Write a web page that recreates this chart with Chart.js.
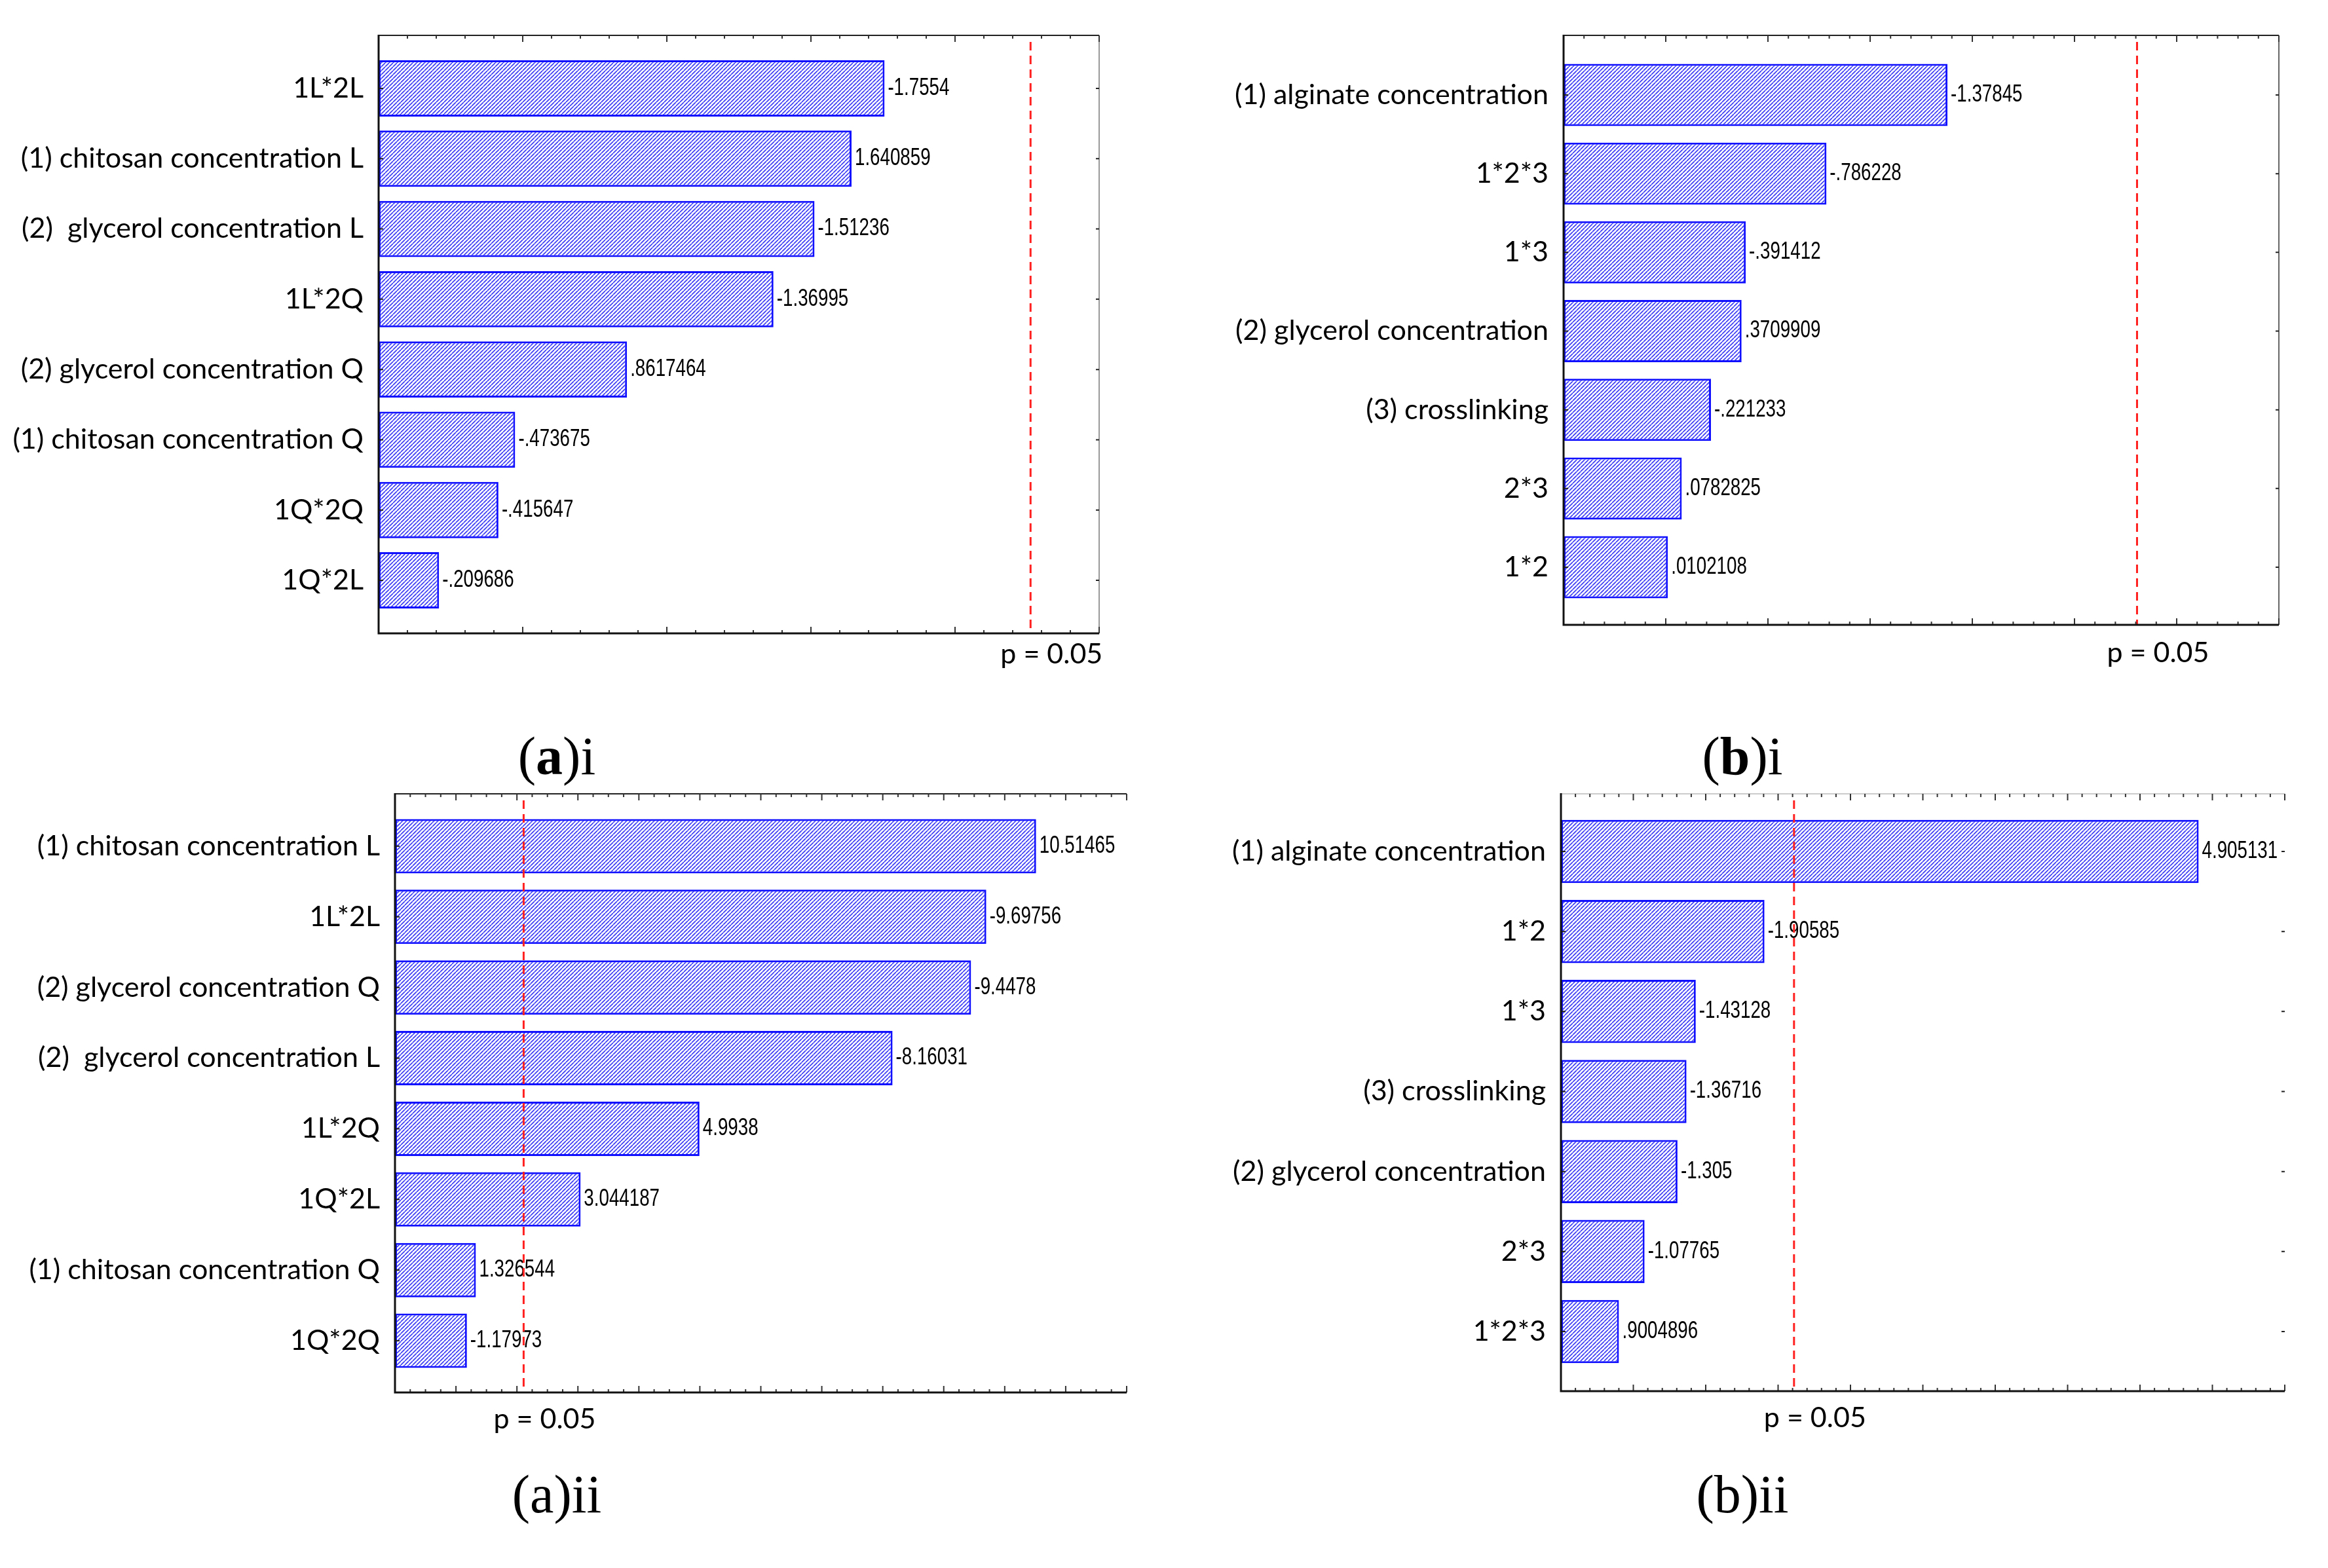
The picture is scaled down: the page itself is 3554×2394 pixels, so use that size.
<!DOCTYPE html>
<html>
<head>
<meta charset="utf-8">
<script src="https://cdn.jsdelivr.net/npm/chart.js@4.4.1/dist/chart.umd.min.js"></script>
<style>
  html, body { margin: 0; padding: 0; background: #fff; }
  body { width: 3554px; height: 2394px; position: relative; overflow: hidden; }
  canvas { position: absolute; }
  .cap {
    position: absolute;
    font-family: 'Liberation Serif', 'Times New Roman', serif;
    font-size: 82px;
    line-height: 82px;
    transform: translateX(-50%);
    white-space: nowrap;
    color: #000;
  }
</style>
</head>
<body>
<canvas id="chart-a1"></canvas>
<canvas id="chart-b1"></canvas>
<canvas id="chart-a2"></canvas>
<canvas id="chart-b2"></canvas>
<div class="cap" style="left:850px; top:1114px">(<b>a</b>)i</div>
<div class="cap" style="left:2660px; top:1114px">(<b>b</b>)i</div>
<div class="cap" style="left:850px; top:2241px">(a)ii</div>
<div class="cap" style="left:2660px; top:2241px">(b)ii</div>
<script>
/* ==========================================
   Pareto charts of standardized effects
   ========================================== */

// (a)i — chitosan films, response i
const A1_TERMS = ['1L*2L', '(1) chitosan concentration L', '(2)  glycerol concentration L', '1L*2Q',
  '(2) glycerol concentration Q', '(1) chitosan concentration Q', '1Q*2Q', '1Q*2L'];
const A1_EFFECTS = [-1.7554, 1.640859, -1.51236, -1.36995, 0.8617464, -0.473675, -0.415647, -0.209686];

// (b)i — alginate films, response i
const B1_TERMS = ['(1) alginate concentration', '1*2*3', '1*3', '(2) glycerol concentration',
  '(3) crosslinking', '2*3', '1*2'];
const B1_EFFECTS = [-1.37845, -0.786228, -0.391412, 0.3709909, -0.221233, 0.0782825, 0.0102108];

// (a)ii — chitosan films, response ii
const A2_TERMS = ['(1) chitosan concentration L', '1L*2L', '(2) glycerol concentration Q',
  '(2)  glycerol concentration L', '1L*2Q', '1Q*2L', '(1) chitosan concentration Q', '1Q*2Q'];
const A2_EFFECTS = [10.51465, -9.69756, -9.4478, -8.16031, 4.9938, 3.044187, 1.326544, -1.17973];

// (b)ii — alginate films, response ii
const B2_TERMS = ['(1) alginate concentration', '1*2', '1*3', '(3) crosslinking',
  '(2) glycerol concentration', '2*3', '1*2*3'];
const B2_EFFECTS = [4.905131, -1.90585, -1.43128, -1.36716, -1.305, -1.07765, 0.9004896];

// critical t values drawn as the p = 0.05 line
const P_CRIT = [2.262, 2.306, 2.11, 2.11];

const LABEL_FONT = 'Lato, "Open Sans", sans-serif';

// STATISTICA style: drop the leading zero (".8617464", "-.473675")
function formatEffect(v) {
  return String(v).replace(/^(-?)0\./, '$1.');
}

function makeHatch() {
  const s = 6;
  const c = document.createElement('canvas');
  c.width = s; c.height = s;
  const g = c.getContext('2d');
  g.fillStyle = '#fff';
  g.fillRect(0, 0, s, s);
  g.strokeStyle = '#3a3af4';
  g.lineWidth = 1.6;
  g.beginPath();
  for (const k of [-s, 0, s]) { g.moveTo(k, s); g.lineTo(k + s, 0); }
  g.stroke();
  return g.createPattern(c, 'repeat');
}

// frame, inside ticks, p line, value labels
function makeDecor(cfg, effects) {
  return {
    id: 'paretoDecor',
    afterDraw(chart) {
      const { ctx, chartArea: a, scales: { x, y } } = chart;
      ctx.save();

      // value labels next to bar ends
      const meta = chart.getDatasetMeta(0);
      ctx.fillStyle = '#000';
      ctx.font = '36px "Liberation Sans", Arial, sans-serif';
      ctx.textBaseline = 'middle';
      ctx.textAlign = 'left';
      meta.data.forEach((bar, i) => {
        ctx.save();
        ctx.translate(bar.x + 5, bar.y);
        ctx.scale(0.77, 1);
        ctx.fillText(formatEffect(effects[i]), 0, 0);
        ctx.restore();
      });

      // p = 0.05 line
      const px = x.getPixelForValue(cfg.pCrit);
      ctx.strokeStyle = '#ff2020';
      ctx.lineWidth = 3;
      ctx.setLineDash([13, 8]);
      ctx.beginPath();
      ctx.moveTo(px, a.top + 10);
      ctx.lineTo(px, a.bottom);
      ctx.stroke();
      ctx.setLineDash([]);

      ctx.font = '43px ' + LABEL_FONT;
      ctx.textAlign = 'center';
      ctx.fillText('p = 0.05', px + 32, a.bottom + cfg.pDy);

      // top and right borders
      ctx.lineWidth = 2;
      ctx.strokeStyle = cfg.topColor;
      ctx.beginPath(); ctx.moveTo(a.left, a.top); ctx.lineTo(a.right, a.top); ctx.stroke();
      if (cfg.rightColor) {
        ctx.strokeStyle = cfg.rightColor;
        ctx.beginPath(); ctx.moveTo(a.right, a.top); ctx.lineTo(a.right, a.bottom); ctx.stroke();
      }

      // ticks on top and bottom, pointing inside
      const n = Math.round((cfg.xMax - cfg.xMin) / cfg.minor);
      ctx.strokeStyle = '#333';
      for (let i = 0; i <= n; i++) {
        const v = cfg.xMin + i * cfg.minor;
        const r = v / cfg.major;
        const len = Math.abs(r - Math.round(r)) < 1e-6 ? 10 : 5;
        const tx = x.getPixelForValue(v);
        ctx.beginPath();
        ctx.moveTo(tx, a.bottom); ctx.lineTo(tx, a.bottom - len);
        ctx.moveTo(tx, a.top); ctx.lineTo(tx, a.top + len);
        ctx.stroke();
      }

      // category ticks on left and right
      effects.forEach((_, i) => {
        const ty = y.getPixelForValue(i);
        ctx.strokeStyle = '#222';
        ctx.beginPath();
        ctx.moveTo(a.left, ty); ctx.lineTo(a.left + 7, ty);
        if (cfg.rightTicks) { ctx.moveTo(a.right, ty); ctx.lineTo(a.right - 5, ty); }
        ctx.stroke();
      });

      // left and bottom axes
      ctx.lineWidth = 3;
      ctx.strokeStyle = '#111';
      ctx.beginPath();
      ctx.moveTo(a.left, a.top - 1);
      ctx.lineTo(a.left, a.bottom);
      ctx.lineTo(a.right, a.bottom);
      ctx.stroke();

      ctx.restore();
    }
  };
}

function renderPareto(id, terms, effects, cfg) {
  const canvas = document.getElementById(id);
  canvas.width = cfg.box.w;
  canvas.height = cfg.box.h;
  canvas.style.left = cfg.box.x + 'px';
  canvas.style.top = cfg.box.y + 'px';

  return new Chart(canvas, {
    type: 'bar',
    data: {
      datasets: [{
        data: effects.map((v, i) => ({ x: Math.abs(v), y: i })),
        base: cfg.xMin,
        backgroundColor: makeHatch(),
        borderColor: '#1010ff',
        borderWidth: 3,
        borderSkipped: false,
        barPercentage: cfg.barPct,
        categoryPercentage: 1,
      }]
    },
    options: {
      indexAxis: 'y',
      responsive: false,
      animation: false,
      devicePixelRatio: 1,
      events: [],
      layout: {
        padding: {
          left: 0,
          top: cfg.plot.t - cfg.box.y,
          right: cfg.box.x + cfg.box.w - cfg.plot.r,
          bottom: cfg.box.y + cfg.box.h - cfg.plot.b
        }
      },
      plugins: { legend: { display: false }, tooltip: { enabled: false } },
      scales: {
        x: {
          type: 'linear',
          display: false,
          min: cfg.xMin,
          max: cfg.xMax
        },
        y: {
          type: 'linear',
          reverse: true,
          offset: false,
          min: cfg.yMin,
          max: cfg.yMax,
          afterBuildTicks: s => { s.ticks = terms.map((t, i) => ({ value: i })); },
          afterFit: s => { s.width = cfg.plot.l - cfg.box.x; },
          grid: { display: false, drawTicks: false, offset: false },
          border: { display: false },
          ticks: {
            autoSkip: false,
            padding: 23,
            color: '#000',
            font: { family: LABEL_FONT, size: 43 },
            callback: v => terms[v]
          }
        }
      }
    },
    plugins: [makeDecor(cfg, effects)]
  });
}

renderPareto('chart-a1', A1_TERMS, A1_EFFECTS, {
  box: { x: 0, y: 0, w: 1777, h: 1100 },
  plot: { l: 578, t: 54, r: 1678, b: 967 },
  xMin: 0, xMax: 2.5, minor: 0.1, major: 0.5,
  yMin: -0.755, yMax: 7.755, barPct: 0.8,
  pCrit: P_CRIT[0], pDy: 32, topColor: '#222', rightColor: '#999', rightTicks: true
});

renderPareto('chart-b1', B1_TERMS, B1_EFFECTS, {
  box: { x: 1777, y: 0, w: 1777, h: 1100 },
  plot: { l: 2387, t: 54, r: 3479, b: 954 },
  xMin: -0.5, xMax: 3, minor: 0.1, major: 0.5,
  yMin: -0.757, yMax: 6.732, barPct: 0.79,
  pCrit: P_CRIT[1], pDy: 43, topColor: '#222', rightColor: '#666', rightTicks: true
});

renderPareto('chart-a2', A2_TERMS, A2_EFFECTS, {
  box: { x: 0, y: 1100, w: 1777, h: 1294 },
  plot: { l: 603, t: 1212, r: 1720, b: 2126 },
  xMin: 0, xMax: 12, minor: 0.25, major: 1,
  yMin: -0.741, yMax: 7.732, barPct: 0.77,
  pCrit: P_CRIT[2], pDy: 41, topColor: '#222', rightColor: null, rightTicks: false
});

renderPareto('chart-b2', B2_TERMS, B2_EFFECTS, {
  box: { x: 1777, y: 1100, w: 1777, h: 1294 },
  plot: { l: 2383, t: 1212, r: 3488, b: 2124 },
  xMin: 0.5, xMax: 5.5, minor: 0.1, major: 0.5,
  yMin: -0.72, yMax: 6.745, barPct: 0.79,
  pCrit: P_CRIT[3], pDy: 41, topColor: '#ccc', rightColor: null, rightTicks: true
});
</script>
</body>
</html>
